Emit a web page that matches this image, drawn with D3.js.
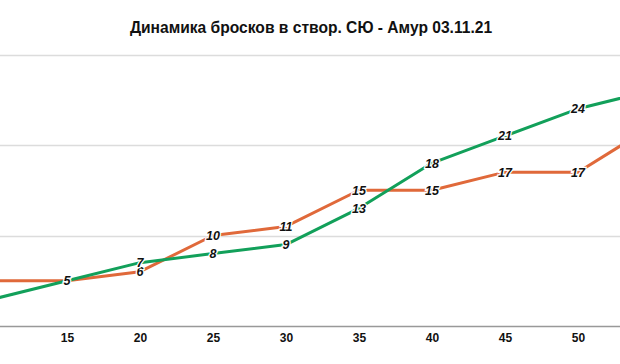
<!DOCTYPE html>
<html><head><meta charset="utf-8">
<script src="https://cdn.jsdelivr.net/npm/d3@7"></script>
<style>body{margin:0;background:#fff;overflow:hidden}svg{display:block}</style>
</head><body>
<svg id="c" width="620" height="364"></svg>
<script>
const minutes = [10, 15, 20, 25, 30, 35, 40, 45, 50, 55];
const tickLabels = ["10", "15", "20", "25", "30", "35", "40", "45", "50", "55"];
const seriesGreen = [3, 5, 7, 8, 9, 13, 18, 21, 24, 26];
const seriesOrange = [5, 5, 6, 10, 11, 15, 15, 17, 17, 22];
const labelsGreen = [null, "5", "7", "8", "9", "13", "18", "21", "24", null];
const labelsOrange = [null, null, "6", "10", "11", "15", "15", "17", "17", null];
const yTicks = [0, 10, 20, 30];
const title = "Динамика бросков в створ. СЮ - Амур 03.11.21";

const svg = d3.select("#c");
const W = 620, H = 364;
const x = d3.scaleLinear().domain([10, 55]).range([-6, 651]);
const y = d3.scaleLinear().domain([0, 30]).range([326, 54.5]);

svg.append("rect").attr("width", W).attr("height", H).attr("fill", "#fff");

svg.append("text").attr("x", 311).attr("y", 32.5).attr("text-anchor", "middle")
  .attr("font-family", "Liberation Sans, Arial, sans-serif").attr("font-weight", "bold")
  .attr("font-size", 15.6).attr("fill", "#111").text(title);

// gridlines
const grid = svg.append("g");
grid.selectAll("line").data(yTicks.filter(d => d > 0)).join("line")
  .attr("x1", 0).attr("x2", W).attr("y1", d => Math.round(y(d)) + 0.5).attr("y2", d => Math.round(y(d)) + 0.5)
  .attr("stroke", "#dcdcdc").attr("stroke-width", 1.5);

// x axis (only ticks whose labels lie fully inside the visible frame)
const visibleTicks = minutes.filter(m => x(m) > 10 && x(m) < W - 10);
const xAxis = svg.append("g").attr("transform", `translate(0,${Math.round(y(0)) + 0.5})`)
  .call(d3.axisBottom(x).tickValues(visibleTicks).tickFormat(d => tickLabels[minutes.indexOf(d)]).tickSize(0).tickPadding(7));
xAxis.select(".domain").remove();
xAxis.append("line").attr("x1", 0).attr("x2", W).attr("stroke", "#999").attr("stroke-width", 1.5);
xAxis.selectAll("text").attr("font-family", "Liberation Sans, Arial, sans-serif")
  .attr("font-weight", "bold").attr("font-size", 12).attr("fill", "#111");

const line = d3.line().x((d, i) => x(minutes[i])).y(d => y(d));
svg.append("path").datum(seriesOrange).attr("d", line).attr("fill", "none")
  .attr("stroke", "#e0693a").attr("stroke-width", 3).attr("stroke-linejoin", "round");
svg.append("path").datum(seriesGreen).attr("d", line).attr("fill", "none")
  .attr("stroke", "#12a05a").attr("stroke-width", 3).attr("stroke-linejoin", "round");

function addLabels(vals, labels) {
  const pts = vals.map((v, i) => ({v, i, t: labels[i]})).filter(d => d.t);
  const g = svg.append("g");
  g.selectAll("text").data(pts).join("text")
    .attr("x", d => x(minutes[d.i])).attr("y", d => y(d.v) + 4.5)
    .attr("text-anchor", "middle")
    .attr("font-family", "Liberation Sans, Arial, sans-serif")
    .attr("font-weight", "bold").attr("font-style", "italic").attr("font-size", 12.5)
    .attr("fill", "#111")
    .attr("stroke", "#fff").attr("stroke-width", 2.5).attr("paint-order", "stroke")
    .text(d => d.t);
}
addLabels(seriesOrange, labelsOrange);
addLabels(seriesGreen, labelsGreen);
</script>
</body></html>
